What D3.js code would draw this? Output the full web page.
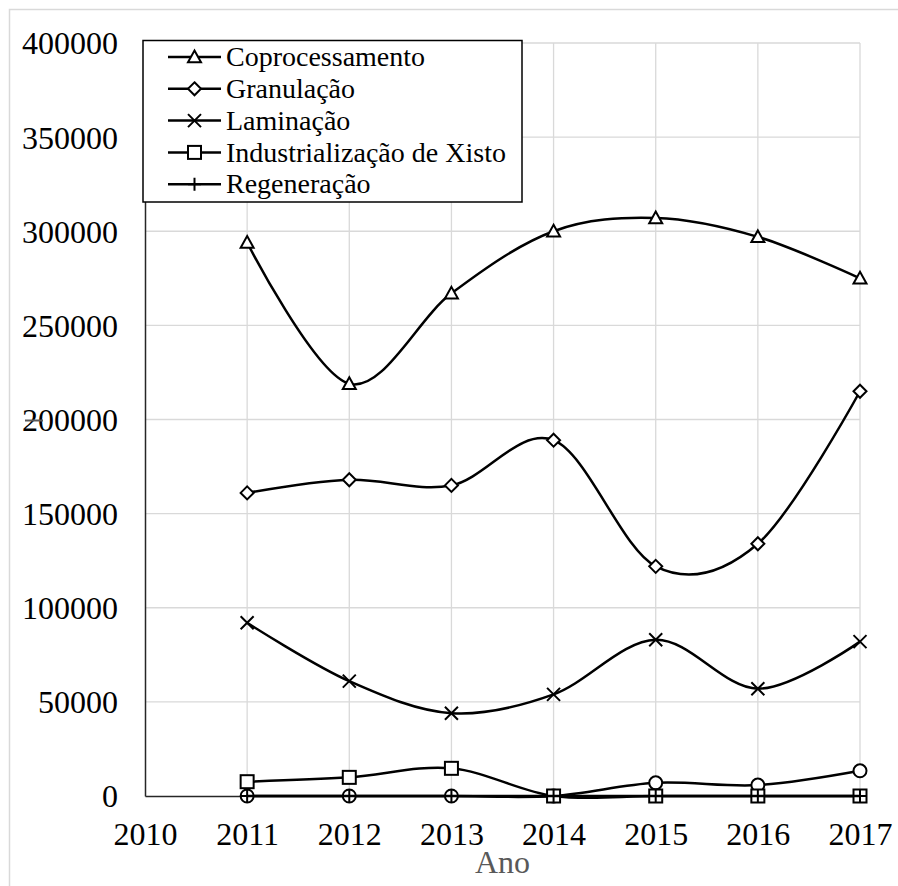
<!DOCTYPE html>
<html>
<head>
<meta charset="utf-8">
<script src="https://cdn.jsdelivr.net/npm/d3@7/dist/d3.min.js"></script>
<style>
  html, body { margin: 0; padding: 0; background: #fff; }
  svg { display: block; }
  svg text { font-family: "Liberation Serif", "Times New Roman", Times, "DejaVu Serif", serif !important; }
</style>
</head>
<body>
<svg id="chart" width="898" height="886"></svg>
<script>
// Produção anual por processo
const years = [2011, 2012, 2013, 2014, 2015, 2016, 2017];
const coprocessamento = [294000, 219000, 267000, 300000, 307000, 297000, 275000];
const granulacao = [161000, 168000, 165000, 189000, 122000, 134000, 215000];
const laminacao = [92000, 61000, 44000, 54000, 83000, 57000, 82000];
const industrializacao = [7600, 9900, 14700, 0, 0, 0, 0];
const outros = [0, 0, 0, 0, 7000, 5800, 13400];
const regeneracao = [0, 0, 0, 0, 0, 0, 0];

const xTicks = [2010, 2011, 2012, 2013, 2014, 2015, 2016, 2017];
const yTicks = [0, 50000, 100000, 150000, 200000, 250000, 300000, 350000, 400000];
const xTitle = "Ano";

const series = [
  { name: "Outros", values: outros, marker: "circle" },
  { name: "Industrialização de Xisto", values: industrializacao, marker: "square" },
  { name: "Laminação", values: laminacao, marker: "cross" },
  { name: "Granulação", values: granulacao, marker: "diamond" },
  { name: "Coprocessamento", values: coprocessamento, marker: "triangle" },
  { name: "Regeneração", values: regeneracao, marker: "plus" }
];
const legendOrder = ["Coprocessamento", "Granulação", "Laminação", "Industrialização de Xisto", "Regeneração"];

const FONT = "'Liberation Serif', 'Times New Roman', Times, 'DejaVu Serif', serif";
const svg = d3.select("#chart");
const plot = { left: 145, right: 860, top: 43, bottom: 796 };

const x = d3.scaleLinear().domain([2010, 2017]).range([plot.left, plot.right]);
const y = d3.scaleLinear().domain([0, 400000]).range([plot.bottom, plot.top]);

// chart frame
svg.append("rect")
  .attr("x", 9.5).attr("y", 9.5).attr("width", 1000).attr("height", 1000)
  .attr("fill", "#fff").attr("stroke", "#d9d9d9").attr("stroke-width", 1.5);

// gridlines
const grid = svg.append("g").attr("stroke", "#d9d9d9").attr("stroke-width", 1.3);
grid.selectAll("line.h").data(yTicks.filter(d => d > 0)).join("line")
  .attr("x1", plot.left).attr("x2", plot.right)
  .attr("y1", d => y(d)).attr("y2", d => y(d));
grid.selectAll("line.v").data(xTicks.filter(d => d > 2010)).join("line")
  .attr("x1", d => x(d)).attr("x2", d => x(d))
  .attr("y1", plot.top).attr("y2", plot.bottom);

// axes
const yAxis = svg.append("g").attr("transform", `translate(${plot.left},0)`)
  .call(d3.axisLeft(y).tickValues(yTicks).tickSize(0).tickPadding(27).tickFormat(d3.format("d")));
const xAxis = svg.append("g").attr("transform", `translate(0,${plot.bottom})`)
  .call(d3.axisBottom(x).tickValues(xTicks).tickSize(0).tickPadding(27).tickFormat(d3.format("d")));
[yAxis, xAxis].forEach(a => {
  a.attr("font-family", FONT).attr("font-size", 32);
  a.select(".domain").attr("stroke", "#262626").attr("stroke-width", 1.5);
  a.selectAll("text").attr("font-size", 32).attr("fill", "#000").style("font-family", FONT);
});
yAxis.selectAll("text").attr("dy", "0.34em");
xAxis.selectAll("text").attr("dy", "0.34em").attr("y", 38);

// small mark beside the 200000 label
svg.append("line")
  .attr("x1", 25).attr("x2", 43).attr("y1", y(200000) + 1).attr("y2", y(200000) + 1)
  .attr("stroke", "#595959").attr("stroke-width", 2);

// x axis title
svg.append("text")
  .attr("x", (plot.left + plot.right) / 2).attr("y", 873)
  .attr("text-anchor", "middle").attr("font-size", 32).attr("fill", "#595959")
  .style("font-family", FONT)
  .text(xTitle);

// markers
function drawMarker(g, type, cx, cy) {
  const s = 6.5;
  const st = { stroke: "#000", "stroke-width": 2, fill: "#fff" };
  let el;
  if (type === "triangle") {
    el = g.append("path").attr("d", `M${cx},${cy - s}L${cx + s},${cy + s * 0.8}L${cx - s},${cy + s * 0.8}Z`);
  } else if (type === "diamond") {
    el = g.append("path").attr("d", `M${cx},${cy - s}L${cx + s},${cy}L${cx},${cy + s}L${cx - s},${cy}Z`);
  } else if (type === "square") {
    el = g.append("rect").attr("x", cx - s).attr("y", cy - s).attr("width", 2 * s).attr("height", 2 * s);
  } else if (type === "circle") {
    el = g.append("circle").attr("cx", cx).attr("cy", cy).attr("r", s);
  } else if (type === "cross") {
    el = g.append("path").attr("d", `M${cx - s},${cy - s}L${cx + s},${cy + s}M${cx - s},${cy + s}L${cx + s},${cy - s}`);
    st.fill = "none";
  } else if (type === "plus") {
    el = g.append("path").attr("d", `M${cx - s},${cy}L${cx + s},${cy}M${cx},${cy - s}L${cx},${cy + s}`);
    st.fill = "none";
  }
  Object.entries(st).forEach(([k, v]) => el.attr(k, v));
}

// smoothed series lines
const line = d3.line()
  .x((d, i) => x(years[i]))
  .y(d => y(d))
  .curve(d3.curveCardinal.tension(0));

series.forEach(s => {
  const g = svg.append("g");
  g.append("path").attr("d", line(s.values))
    .attr("fill", "none").attr("stroke", "#000").attr("stroke-width", 2.5);
  s.values.forEach((v, i) => drawMarker(g, s.marker, x(years[i]), y(v)));
});

// legend
const legend = svg.append("g");
legend.append("rect")
  .attr("x", 143).attr("y", 40.5).attr("width", 379).attr("height", 161.5)
  .attr("fill", "#fff").attr("stroke", "#000").attr("stroke-width", 1.5);
legendOrder.forEach((name, i) => {
  const s = series.find(d => d.name === name);
  const cy = 57 + i * 31.8;
  const row = legend.append("g");
  row.append("line").attr("x1", 168).attr("x2", 221).attr("y1", cy).attr("y2", cy)
    .attr("stroke", "#000").attr("stroke-width", 2.5);
  drawMarker(row, s.marker, 194.5, cy);
  row.append("text").attr("x", 226).attr("y", cy).attr("dy", "0.33em")
    .attr("font-size", 28).attr("fill", "#000").style("font-family", FONT).text(name);
});
</script>
</body>
</html>
